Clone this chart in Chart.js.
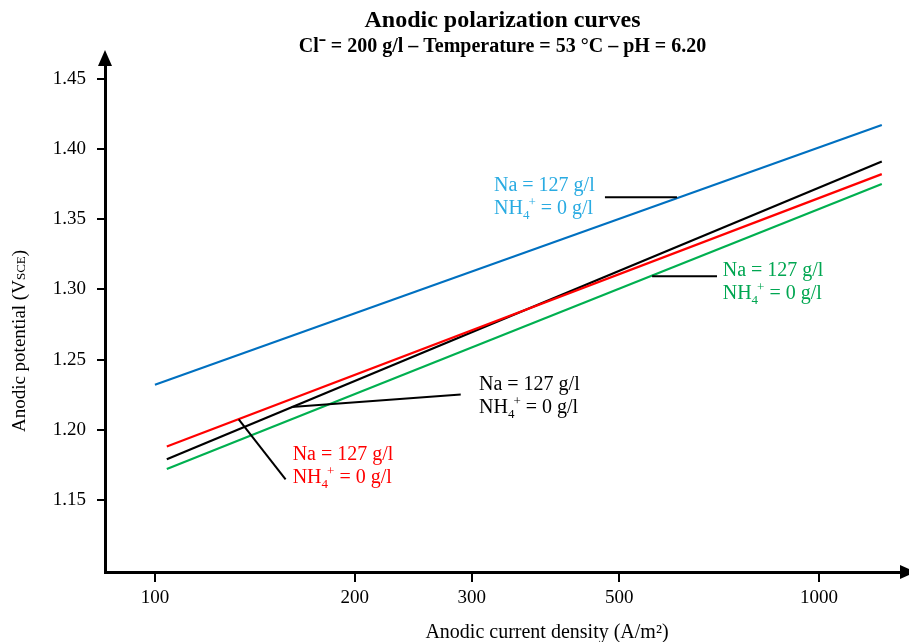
<!DOCTYPE html>
<html>
<head>
<meta charset="utf-8">
<script src="https://cdn.jsdelivr.net/npm/chart.js@4.4.1/dist/chart.umd.min.js"></script>
<style>
html, body { margin:0; padding:0; background:#fff; }
</style>
</head>
<body>
<canvas id="myChart" width="909" height="642"></canvas>
<script>
// current density (A/m2) and potential (V SCE) at both ends of each fitted line
var blueX = [100, 1243];
var blueY = [1.232, 1.417];
var redX = [104.2, 1243];
var redY = [1.188, 1.382];
var blackX = [104.2, 1243];
var blackY = [1.179, 1.391];
var greenX = [104.2, 1243];
var greenY = [1.172, 1.375];

var xTicks = [100, 200, 300, 500, 1000];
var yTicks = [1.15, 1.20, 1.25, 1.30, 1.35, 1.40, 1.45];

var titleText = "Anodic polarization curves";
var subtitleText = "Cl\u207B = 200 g/l \u2013 Temperature = 53 \u00B0C \u2013 pH = 6.20";
var xTitle = "Anodic current density (A/m\u00B2)";
var labelLine1 = "Na = 127 g/l";

var serif = "'Liberation Serif', 'Times New Roman', serif";

// label boxes, placed in data units (first line baseline, left edge) with their leader lines
var notes = [
  {color: "#29abe2", x: 324, y: 1.3699, lx: [476, 611], ly: [1.3656, 1.3656]},
  {color: "#00a651", x: 716, y: 1.3093, lx: [560.5, 702], ly: [1.3093, 1.3093]},
  {color: "#000000", x: 307.6, y: 1.2281, lx: [160.6, 288.7], ly: [1.2162, 1.2251]},
  {color: "#ff0000", x: 161.2, y: 1.1783, lx: [133.7, 157.3], ly: [1.2073, 1.1647]}
];

function toPoints(xs, ys) {
  var pts = [];
  for (var i = 0; i < xs.length; i++) pts.push({x: xs[i], y: ys[i]});
  return pts;
}

function lineSet(xs, ys, color) {
  return {data: toPoints(xs, ys), borderColor: color, borderWidth: 2.2, pointRadius: 0, tension: 0, fill: false};
}

// draw text pieces one after another, some smaller and shifted (sub/superscript)
function richWidth(ctx, parts) {
  var w = 0;
  for (var i = 0; i < parts.length; i++) {
    ctx.font = parts[i].size + "px " + serif;
    w += ctx.measureText(parts[i].t).width + (parts[i].kern || 0);
  }
  return w;
}
function drawRich(ctx, x, y, parts) {
  for (var i = 0; i < parts.length; i++) {
    var p = parts[i];
    ctx.font = p.size + "px " + serif;
    ctx.fillText(p.t, x, y + (p.dy || 0));
    x += ctx.measureText(p.t).width + (p.kern || 0);
  }
}

var extras = {
  id: "extras",
  afterDraw: function(chart) {
    var ctx = chart.ctx;
    var a = chart.chartArea;
    var xs = chart.scales.x, ys = chart.scales.y;
    ctx.save();
    ctx.fillStyle = "#000";
    // arrow heads on the axes
    ctx.beginPath();
    ctx.moveTo(a.left, a.top - 16);
    ctx.lineTo(a.left - 7, a.top);
    ctx.lineTo(a.left + 7, a.top);
    ctx.closePath();
    ctx.fill();
    ctx.beginPath();
    ctx.moveTo(a.right + 16, a.bottom);
    ctx.lineTo(a.right, a.bottom - 7);
    ctx.lineTo(a.right, a.bottom + 7);
    ctx.closePath();
    ctx.fill();

    ctx.textBaseline = "alphabetic";
    ctx.textAlign = "left";

    // x title
    ctx.font = "20px " + serif;
    var w = ctx.measureText(xTitle).width;
    ctx.fillText(xTitle, 547 - w / 2, 638);

    // y title with subscript
    var yParts = [{t: "Anodic potential (V", size: 19}, {t: "SCE", size: 13, dy: 0}, {t: ")", size: 19}];
    ctx.translate(25, 341);
    ctx.rotate(-Math.PI / 2);
    drawRich(ctx, -richWidth(ctx, yParts) / 2, 0, yParts);
    ctx.setTransform(1, 0, 0, 1, 0, 0);

    // labels and leader lines
    for (var i = 0; i < notes.length; i++) {
      var n = notes[i];
      ctx.strokeStyle = "#000";
      ctx.lineWidth = 2;
      ctx.beginPath();
      ctx.moveTo(xs.getPixelForValue(n.lx[0]), ys.getPixelForValue(n.ly[0]));
      ctx.lineTo(xs.getPixelForValue(n.lx[1]), ys.getPixelForValue(n.ly[1]));
      ctx.stroke();
      var px = xs.getPixelForValue(n.x), py = ys.getPixelForValue(n.y);
      ctx.fillStyle = n.color;
      ctx.font = "20px " + serif;
      ctx.fillText(labelLine1, px, py);
      drawRich(ctx, px, py + 23, [
        {t: "NH", size: 20},
        {t: "4", size: 13, dy: 5, kern: -1},
        {t: "+", size: 13, dy: -8},
        {t: " = 0 g/l", size: 20}
      ]);
    }
    ctx.restore();
  }
};

var ctx = document.getElementById("myChart").getContext("2d");
var myChart = new Chart(ctx, {
  type: "line",
  data: {
    datasets: [
      lineSet(blueX, blueY, "#0070c0"),
      lineSet(redX, redY, "#ff0000"),
      lineSet(blackX, blackY, "#000000"),
      lineSet(greenX, greenY, "#00b050")
    ]
  },
  options: {
    responsive: false,
    animation: false,
    layout: {padding: {left: 0, right: 9, top: 0, bottom: 0}},
    plugins: {
      legend: {display: false},
      tooltip: {enabled: false},
      title: {
        display: true, text: titleText, fullSize: false, color: "#000",
        font: {family: serif, size: 24, weight: "bold", lineHeight: 1.2},
        padding: {top: 6, bottom: 0}
      },
      subtitle: {
        display: true, text: subtitleText, fullSize: false, color: "#000",
        font: {family: serif, size: 20, weight: "bold", lineHeight: 1.2},
        padding: {top: 0, bottom: 7.2}
      }
    },
    scales: {
      x: {
        type: "logarithmic",
        min: 84.1,
        max: 1324,
        afterBuildTicks: function(scale) {
          scale.ticks = xTicks.map(function(v) { return {value: v}; });
        },
        afterFit: function(scale) { scale.height = 70; },
        ticks: {
          color: "#000", font: {family: serif, size: 19}, padding: 5,
          maxRotation: 0, autoSkip: false,
          callback: function(v) { return String(v); }
        },
        grid: {drawOnChartArea: false, drawTicks: true, tickLength: 10, color: "#000", lineWidth: 2},
        border: {display: true, color: "#000", width: 3}
      },
      y: {
        type: "linear",
        min: 1.0987,
        max: 1.459,
        afterBuildTicks: function(scale) {
          scale.ticks = yTicks.map(function(v) { return {value: v}; });
        },
        afterFit: function(scale) { scale.width = 105; },
        ticks: {
          color: "#000", font: {family: serif, size: 19}, padding: 11,
          callback: function(v) { return v.toFixed(2); }
        },
        grid: {drawOnChartArea: false, drawTicks: true, tickLength: 8, color: "#000", lineWidth: 2},
        border: {display: true, color: "#000", width: 3}
      }
    }
  },
  plugins: [extras]
});
</script>
</body>
</html>
